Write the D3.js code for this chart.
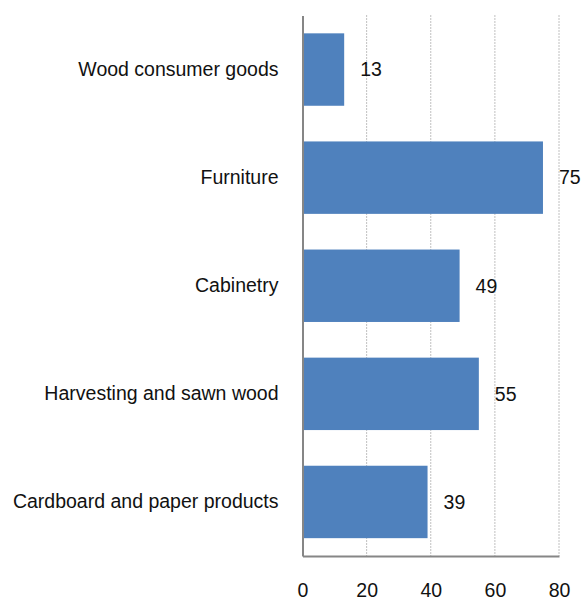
<!DOCTYPE html>
<html>
<head>
<meta charset="utf-8">
<script src="https://cdn.jsdelivr.net/npm/d3@7"></script>
<style>
  body { margin: 0; background: #fff; }
  text { font-family: "Liberation Sans", Arial, sans-serif; fill: #111; }
</style>
</head>
<body>
<div id="chart"></div>
<script>
var categories = ["Wood consumer goods", "Furniture", "Cabinetry", "Harvesting and sawn wood", "Cardboard and paper products"];
var values = [13, 75, 49, 55, 39];
var ticks = [0, 20, 40, 60, 80];

var width = 581, height = 603;
var margin = { top: 15.5, right: 22, bottom: 47, left: 302.5 };
var fontSize = "19.5px";

var svg = d3.select("#chart").append("svg")
  .attr("width", width)
  .attr("height", height);

var x = d3.scaleLinear().domain([0, 80]).range([margin.left, width - margin.right]);
var y = d3.scaleBand().domain(categories)
  .range([margin.top, height - margin.bottom])
  .paddingInner(0.33)
  .paddingOuter(0.165);

// dotted grid lines
svg.append("g")
  .selectAll("line")
  .data(ticks.slice(1))
  .enter()
  .append("line")
  .attr("x1", d => x(d)).attr("x2", d => x(d))
  .attr("y1", margin.top).attr("y2", height - margin.bottom)
  .attr("stroke", "#808080")
  .attr("stroke-width", 1)
  .attr("stroke-dasharray", "1,2");

// bars
svg.append("g")
  .selectAll("rect")
  .data(values)
  .enter()
  .append("rect")
  .attr("x", x(0))
  .attr("y", (d, i) => y(categories[i]))
  .attr("width", d => x(d) - x(0))
  .attr("height", y.bandwidth())
  .attr("fill", "#4f81bd");

// value labels
svg.append("g")
  .selectAll("text")
  .data(values)
  .enter()
  .append("text")
  .attr("x", d => x(d) + 16)
  .attr("y", (d, i) => y(categories[i]) + y.bandwidth() / 2)
  .attr("dy", "0.35em")
  .style("font-size", fontSize)
  .text(d => d);

// axes
var xAxis = svg.append("g")
  .attr("transform", "translate(0," + (height - margin.bottom) + ")")
  .call(d3.axisBottom(x).tickValues(ticks).tickSize(0).tickPadding(27));
xAxis.select(".domain").attr("stroke", "#868686").attr("stroke-width", 2);
xAxis.selectAll("text").style("font-size", fontSize).style("font-family", "Liberation Sans, Arial, sans-serif").attr("fill", "#111");

var yAxis = svg.append("g")
  .attr("transform", "translate(" + margin.left + ",0)")
  .call(d3.axisLeft(y).tickSize(0).tickPadding(24));
yAxis.select(".domain").attr("stroke", "#868686").attr("stroke-width", 2);
yAxis.selectAll("text").style("font-size", fontSize).style("font-family", "Liberation Sans, Arial, sans-serif").attr("fill", "#111");
</script>
</body>
</html>
